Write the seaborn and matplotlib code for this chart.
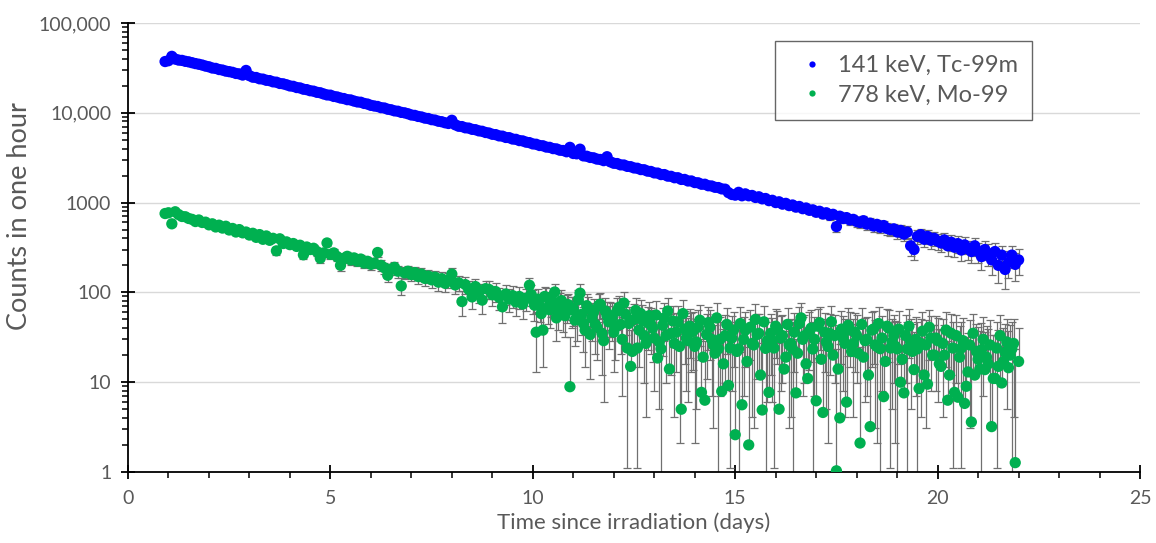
import numpy as np
import pandas as pd
import matplotlib
matplotlib.use("Agg")
import matplotlib.pyplot as plt
import seaborn as sns
from matplotlib.lines import Line2D
from matplotlib.ticker import FixedLocator, FixedFormatter, LogLocator, MultipleLocator, NullFormatter

# counts are one-hour spectra, one every 2 h, first spectrum 22 h after irradiation
first_hour = 22
step_hours = 2

# 141 keV line (Tc-99m), counts per hour
tc99m_counts = [
    37200, 38000, 42500, 39600, 38600, 38300, 37400, 36900, 36100, 35300, 34700, 34000,
    33100, 32500, 31500, 31200, 30300, 29900, 29100, 28700, 28200, 27400, 27100, 26300,
    29600, 25900, 24900, 24700, 23900, 23700, 23000, 22800, 22100, 21900, 21200, 21000,
    20500, 19900, 19700, 19100, 18900, 18300, 18100, 17600, 17400, 16900, 16700, 16200,
    15800, 15700, 15200, 15000, 14600, 14400, 14000, 13900, 13500, 13200, 13100, 12700,
    12500, 12100, 11900, 11750, 11400, 11300, 10950, 10800, 10500, 10400, 10100, 9980,
    9750, 9450, 9350, 9100, 8980, 8720, 8630, 8380, 8290, 8050, 7950, 7740,
    7600, 8250, 7350, 7080, 7020, 6800, 6750, 6540, 6480, 6290, 6220, 6030,
    5950, 5760, 5710, 5530, 5490, 5310, 5280, 5100, 5060, 4900, 4860, 4710,
    4650, 4500, 4460, 4320, 4290, 4150, 4120, 3990, 3960, 3830, 3800, 3680,
    4120, 3520, 3490, 3930, 3310, 3280, 3180, 3150, 3050, 3020, 2930, 3240,
    2840, 2740, 2720, 2630, 2620, 2530, 2510, 2430, 2410, 2330, 2320, 2240,
    2220, 2140, 2130, 2050, 2050, 1970, 1960, 1890, 1890, 1810, 1810, 1740,
    1740, 1670, 1660, 1600, 1600, 1540, 1530, 1480, 1470, 1420, 1410, 1290,
    1230, 1210, 1300, 1190, 1250, 1190, 1200, 1140, 1160, 1100, 1110, 1050,
    1060, 1000, 1020, 960, 980, 925, 940, 890, 905, 855, 870, 820,
    830, 780, 800, 745, 770, 720, 740, 540, 705, 665, 680, 640,
    650, 615, 600, 628, 575, 590, 548, 572, 530, 555, 515, 500,
    510, 470, 490, 445, 470, 330, 300, 420, 440, 390, 420, 380,
    400, 372, 355, 384, 330, 362, 318, 349, 296, 338, 305, 285,
    330, 285, 250, 300, 270, 230, 285, 200, 260, 180, 215, 260,
    205, 230,
]

# 778 keV line (Mo-99), counts per hour, same spectra as above
mo99_counts = [
    755, 770, 580, 790, 735, 700, 695, 665, 650, 615, 640, 600,
    605, 565, 580, 535, 560, 520, 545, 495, 515, 470, 500, 460,
    470, 435, 455, 410, 440, 390, 425, 380, 400, 290, 395, 350,
    365, 340, 350, 325, 335, 262, 320, 300, 310, 285, 240, 275,
    355, 265, 275, 250, 200, 240, 252, 230, 242, 222, 235, 212,
    222, 205, 212, 278, 200, 188, 155, 182, 190, 172, 118, 165,
    172, 158, 166, 150, 160, 143, 152, 138, 148, 130, 142, 126,
    138, 160, 121, 128, 79, 122, 108, 89, 116, 100, 82, 110,
    108, 94, 102, 88, 69, 96, 84, 92, 78, 90, 74, 86,
    120, 82, 36, 71, 38, 88, 64, 79, 52, 74, 60, 70,
    8.9, 66, 52, 98, 45, 71, 34, 60, 41, 74, 29, 55,
    55, 36, 62, 44, 76, 24, 15, 50, 24, 58, 33, 46,
    44, 31, 18.6, 23.5, 52, 62, 35, 27, 47, 5.0, 39, 29,
    36, 25, 41, 7.7, 6.3, 46, 30, 21, 23.5, 7.9, 33, 9.2,
    31, 2.6, 23.5, 5.6, 38, 2.0, 27, 50, 35, 4.9, 23.8, 7.7,
    29, 42, 5.0, 33, 19, 26, 23.5, 7.6, 45, 30, 16, 37,
    23.4, 6.2, 46, 4.6, 28, 35, 20, 1.03, 4.0, 31, 6.0, 38,
    27, 33, 2.1, 19, 30, 3.2, 39, 25, 23.6, 6.9, 42, 24,
    33, 23.5, 10, 7.6, 23.5, 28, 13.8, 23.5, 27, 12, 9.5, 31,
    20, 29, 15, 20, 6.3, 35, 7.7, 6.8, 24, 5.8, 13, 3.6,
    12, 18, 23, 13.8, 16, 3.2, 11, 15, 9.8, 21.5, 14.5, 23.5,
    1.27, 17,
]

# Mo-99 from the in-between spectra (odd hours) of the noisy tail, from hour 239
mo99_odd_first_hour = 239
mo99_counts_odd = [
    95, 72, 84, 58, 90, 68, 77, 101, 62, 81, 55, 73,
    64, 49, 83, 57, 38, 66, 52, 44, 71, 35, 62, 47,
    52, 41, 68, 30, 57, 45, 22, 63, 38, 49, 27, 55,
    40, 56, 28, 43, 33, 14, 48, 36, 25, 58, 31, 42,
    37, 28, 49, 19, 34, 41, 26, 52, 30, 16, 44, 24,
    38, 22, 45, 30, 17, 41, 26, 34, 12, 47, 29, 35,
    24, 39, 31, 14, 44, 27, 36, 21, 52, 33, 11, 40,
    30, 42, 18, 36, 25, 47, 33, 14, 39, 27, 43, 22,
    36, 21, 44, 29, 12, 38, 26, 45, 31, 17, 40, 28,
    25, 39, 18, 33, 42, 22, 30, 8.5, 37, 26, 41, 20,
    31, 16, 27, 38, 12, 24, 33, 19, 29, 9.0, 26, 35,
    22, 14, 30, 19, 26, 11, 24, 33, 17, 28, 20, 27,
]

# background counts under each peak (sets the counting uncertainty)
tc99m_background = 5000
mo99_background = 500

series_labels = ["141 keV, Tc-99m", "778 keV, Mo-99"]
series_colors = ["#0000ff", "#00b050"]

y_ticks = [1, 10, 100, 1000, 10000, 100000]
y_tick_labels = ["1", "10", "100", "1000", "10,000", "100,000"]
x_ticks = [0, 5, 10, 15, 20, 25]


def to_frame(counts, hour0, label, bg):
    c = np.array(counts, dtype=float)
    d = (hour0 + step_hours * np.arange(len(c))) / 24.0
    return pd.DataFrame({"days": d, "counts": c, "err": np.sqrt(c + bg), "line": label})


df = pd.concat([
    to_frame(tc99m_counts, first_hour, series_labels[0], tc99m_background),
    to_frame(mo99_counts, first_hour, series_labels[1], mo99_background),
    to_frame(mo99_counts_odd, mo99_odd_first_hour, series_labels[1], mo99_background),
], ignore_index=True)

sns.set_theme(style="white")
plt.rcParams["font.family"] = ["Lato", "DejaVu Sans"]
grey_text = "#595959"

fig = plt.figure(figsize=(11.56, 5.43), dpi=100)
ax = fig.add_axes([0.1107, 0.1308, 0.8755, 0.8269])
ax.set_yscale("log")

# error bars (lower bar dropped when it would go below zero, as Excel does)
for label in series_labels:
    d = df[df["line"] == label]
    lower = np.where(d["counts"] - d["err"] > 0, d["err"], 0.0)
    ax.errorbar(
        d["days"], d["counts"], yerr=[lower, d["err"]],
        fmt="none", ecolor="#707070", elinewidth=0.9, capsize=2.6, capthick=0.9, zorder=2,
    )

sns.scatterplot(
    data=df, x="days", y="counts", hue="line",
    palette=dict(zip(series_labels, series_colors)),
    s=66, linewidth=0, legend=False, ax=ax, zorder=3,
)

ax.set_xlim(0, 25)
ax.set_ylim(1, 100000)

ax.yaxis.set_major_locator(FixedLocator(y_ticks))
ax.yaxis.set_major_formatter(FixedFormatter(y_tick_labels))
ax.yaxis.set_minor_locator(LogLocator(base=10, subs=np.arange(2, 10)))
ax.yaxis.set_minor_formatter(NullFormatter())
ax.xaxis.set_major_locator(FixedLocator(x_ticks))
ax.xaxis.set_minor_locator(MultipleLocator(1))

ax.tick_params(which="major", direction="inout", length=10, width=1.3, color="black",
               labelsize=14, labelcolor=grey_text)
ax.tick_params(axis="y", which="major", pad=7)
ax.tick_params(axis="x", which="major", pad=8)
ax.tick_params(which="minor", direction="out", length=4, width=1.1, color="black")
ax.tick_params(axis="both", which="both", left=True, bottom=True)

ax.yaxis.grid(True, which="major", color="#d9d9d9", linewidth=1.0)
ax.xaxis.grid(False)
ax.set_axisbelow(True)

for side in ["top", "right"]:
    ax.spines[side].set_visible(False)
for side in ["left", "bottom"]:
    ax.spines[side].set_color("black")
    ax.spines[side].set_linewidth(1.3)

ax.set_xlabel("Time since irradiation (days)", fontsize=16, color=grey_text)
ax.set_ylabel("Counts in one hour", fontsize=19.5, color=grey_text)
ax.xaxis.set_label_coords(0.5, -0.1136)
ax.xaxis.label.set_va("center")
ax.yaxis.set_label_coords(-0.1067, 0.57)
ax.yaxis.label.set_va("center")

handles = [
    Line2D([], [], linestyle="none", marker="o", markersize=4.5, color=c, markeredgewidth=0)
    for c in series_colors
]
leg = ax.legend(
    handles, series_labels, loc="upper right", bbox_to_anchor=(0.8933, 0.96),
    borderaxespad=0, fontsize=17, frameon=True, fancybox=False, borderpad=0.6,
    labelspacing=0.35, handlelength=1.9, handletextpad=0.15,
)
leg.get_frame().set_edgecolor("#404040")
leg.get_frame().set_linewidth(1.0)
for t in leg.get_texts():
    t.set_color(grey_text)

fig.savefig("out.png", dpi=100)
